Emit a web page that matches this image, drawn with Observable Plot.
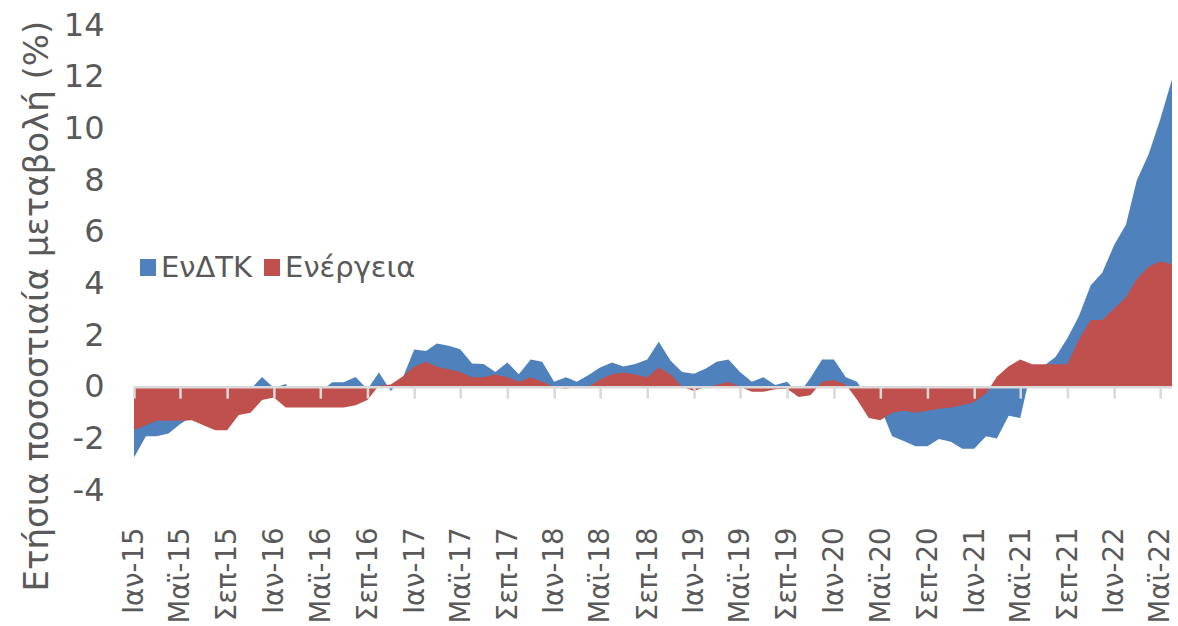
<!DOCTYPE html>
<html>
<head>
<meta charset="utf-8">
<script src="https://cdn.jsdelivr.net/npm/d3@7"></script>
<script src="https://cdn.jsdelivr.net/npm/@observablehq/plot@0.6"></script>
<style>
  body { margin: 0; background: #fff; }
  #wrap { position: relative; width: 1178px; height: 626px; font-family: "DejaVu Sans", sans-serif; color: #595959; }
  #ylabel { position: absolute; left: 36px; top: 306px; transform: translate(-50%, -50%) rotate(-90deg); white-space: nowrap; font-size: 34px; }
  #legend { position: absolute; left: 140px; top: 250px; display: flex; align-items: center; font-size: 29px; white-space: nowrap; }
  .sw { display: inline-block; width: 16px; height: 17px; margin-right: 5px; }
  .item { display: flex; align-items: center; margin-right: 12px; }
</style>
</head>
<body>
<div id="wrap">
  <div id="chart"></div>
  <div id="ylabel"></div>
  <div id="legend"></div>
</div>
<script>
// ---- Data ----
const startYear = 2015;
const monthNames = ["Ιαν", "Φεβ", "Μαρ", "Απρ", "Μαϊ", "Ιουν", "Ιουλ", "Αυγ", "Σεπ", "Οκτ", "Νοε", "Δεκ"];
const seriesNames = ["ΕνΔΤΚ", "Ενέργεια"];
const seriesColors = ["#4F81BD", "#C0504D"];
const yTitle = "Ετήσια ποσοστιαία μεταβολή (%)";
const yTicks = [-4, -2, 0, 2, 4, 6, 8, 10, 12, 14];

// ΕνΔΤΚ (HICP), Jan 2015 – Jun 2022
const hicp = [
  -2.74, -1.92, -1.92, -1.81, -1.45, -1.15, -1.0, -0.5, -0.8, -0.1, -0.1, 0.37,
  -0.05, 0.1, -0.7, -0.4, -0.2, 0.17, 0.17, 0.37, -0.1, 0.55, -0.17, 0.3,
  1.44, 1.38, 1.67, 1.58, 1.45, 0.90, 0.88, 0.57, 0.94, 0.48, 1.05, 0.96,
  0.19, 0.36, 0.19, 0.45, 0.74, 0.94, 0.78, 0.88, 1.05, 1.74, 1.0, 0.57,
  0.5, 0.7, 0.96, 1.05, 0.57, 0.19, 0.36, 0.06, 0.19, -0.3, 0.35, 1.05,
  1.05, 0.36, 0.19, -0.5, -0.8, -1.92, -2.1, -2.31, -2.31, -2.03, -2.13, -2.40,
  -2.40, -1.92, -2.01, -1.13, -1.21, 0.8, 0.8, 1.15, 1.87, 2.73, 3.93, 4.41,
  5.48, 6.28, 7.98, 9.0, 10.33, 11.9
];
// Ενέργεια, Jan 2015 – Jun 2022
const energy = [
  -1.69, -1.49, -1.32, -1.32, -1.32, -1.30, -1.49, -1.69, -1.69, -1.10, -1.01, -0.52,
  -0.42, -0.81, -0.81, -0.81, -0.81, -0.81, -0.81, -0.72, -0.52, 0.05, 0.08, 0.38,
  0.77, 0.96, 0.77, 0.67, 0.57, 0.36, 0.36, 0.47, 0.36, 0.19, 0.36, 0.19,
  0.0, -0.08, 0.0, 0.0, 0.28, 0.48, 0.55, 0.47, 0.36, 0.74, 0.47, 0.0,
  -0.17, 0.0, 0.06, 0.19, 0.0, -0.2, -0.2, -0.1, -0.08, -0.4, -0.33, 0.19,
  0.26, 0.08, -0.5, -1.21, -1.30, -1.01, -0.93, -1.01, -0.93, -0.85, -0.81, -0.72,
  -0.6, -0.26, 0.38, 0.79, 1.05, 0.87, 0.87, 0.87, 0.87, 1.83, 2.58, 2.58,
  3.03, 3.46, 4.17, 4.64, 4.85, 4.75
];

// ---- Build table ----
const start = new Date(Date.UTC(startYear, 0, 1));
const data = hicp.map((v, i) => ({ date: d3.utcMonth.offset(start, i), hicp: v, energy: energy[i] }));
const dates = data.map(d => d.date);
const tickDates = dates.filter(d => d.getUTCMonth() % 4 === 0);
const fmt = d => `${monthNames[d.getUTCMonth()]}-${String(d.getUTCFullYear() % 100).padStart(2, "0")}`;

const chart = Plot.plot({
  width: 1178,
  height: 626,
  marginLeft: 134,
  marginRight: 6,
  marginTop: 25,
  marginBottom: 136,
  style: { fontFamily: "DejaVu Sans, sans-serif", color: "#595959", background: "#fff", overflow: "visible" },
  x: { type: "utc", domain: [dates[0], dates[dates.length - 1]] },
  y: { domain: [-4, 14] },
  marks: [
    Plot.areaY(data, { x: "date", y1: 0, y2: "hicp", fill: seriesColors[0] }),
    Plot.areaY(data, { x: "date", y1: 0, y2: "energy", fill: seriesColors[1] }),
    Plot.ruleY([0], { stroke: "#D9D9D9", strokeWidth: 2.5 }),
    Plot.ruleX(tickDates, { x: d => d, y1: 0, y2: 0, insetBottom: -12, stroke: "#D9D9D9", strokeWidth: 2.5 }),
    Plot.axisY({ ticks: yTicks, tickFormat: d => String(d), tickSize: 0, tickPadding: 30, label: null, fontSize: 32, fill: "#595959" }),
    Plot.axisX({ ticks: tickDates, tickFormat: fmt, tickSize: 0, tickRotate: -90, tickPadding: 37, label: null, fontSize: 27.5, fill: "#595959" })
  ]
});
document.getElementById("chart").appendChild(chart);

document.getElementById("ylabel").textContent = yTitle;
const legend = document.getElementById("legend");
seriesNames.forEach((name, i) => {
  const item = document.createElement("div");
  item.className = "item";
  const sw = document.createElement("span");
  sw.className = "sw";
  sw.style.background = seriesColors[i];
  const label = document.createElement("span");
  label.textContent = name;
  item.appendChild(sw);
  item.appendChild(label);
  legend.appendChild(item);
});
</script>
</body>
</html>
